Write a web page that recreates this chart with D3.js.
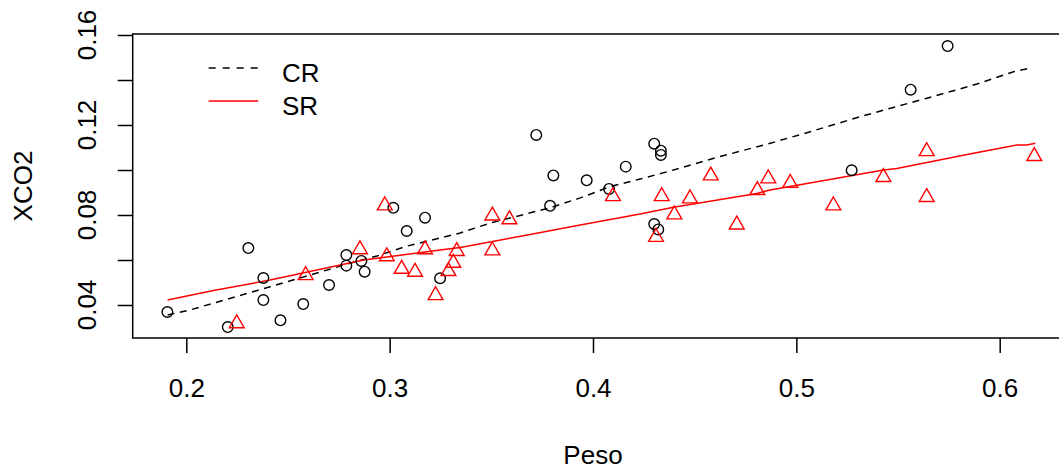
<!DOCTYPE html>
<html>
<head>
<meta charset="utf-8">
<script src="https://cdn.jsdelivr.net/npm/d3@7"></script>
<style>
  body { margin: 0; background: #fff; }
  text { font-family: "Liberation Sans", Arial, Helvetica, sans-serif; font-size: 26px; fill: #000; }
</style>
</head>
<body>
<div id="chart"></div>
<script>
// CR points (black circles)
const crPeso = [0.1907, 0.2204, 0.2305, 0.2379, 0.2379, 0.2463, 0.2575, 0.2702, 0.2787, 0.2787,
    0.2861, 0.2877, 0.3018, 0.3084, 0.3174, 0.3248, 0.3721, 0.3805, 0.3969, 0.4161,
    0.4301, 0.4334, 0.4334, 0.4079, 0.3789, 0.4301, 0.4321, 0.5272, 0.5562, 0.5744];
const crXco2 = [0.0369, 0.0302, 0.0653, 0.0520, 0.0422, 0.0332, 0.0404, 0.0489, 0.0622, 0.0575,
    0.0596, 0.0548, 0.0832, 0.0729, 0.0788, 0.0519, 0.1156, 0.0976, 0.0954, 0.1015,
    0.1117, 0.1086, 0.1067, 0.0916, 0.0841, 0.0760, 0.0736, 0.0999, 0.1357, 0.1551];

// SR points (red triangles)
const srPeso = [0.2248, 0.2976, 0.2854, 0.2587, 0.2986, 0.3059, 0.3125, 0.3174, 0.3226, 0.3289,
    0.3313, 0.3330, 0.3505, 0.3589, 0.3505, 0.4098, 0.4338, 0.4477, 0.4579, 0.4400,
    0.4310, 0.4707, 0.4808, 0.4862, 0.4970, 0.5182, 0.5428, 0.5641, 0.5641, 0.6170];
const srXco2 = [0.0318, 0.0842, 0.0647, 0.0532, 0.0616, 0.0560, 0.0547, 0.0647, 0.0443, 0.0550,
    0.0587, 0.0639, 0.0797, 0.0780, 0.0642, 0.0883, 0.0883, 0.0873, 0.0975, 0.0802,
    0.0702, 0.0757, 0.0910, 0.0962, 0.0942, 0.0842, 0.0968, 0.1083, 0.0879, 0.1061];

// smooth curves
const crLineX = [0.1908, 0.2018, 0.2412, 0.2574, 0.2791, 0.2938, 0.3086, 0.3347, 0.3494, 0.3789,
    0.3937, 0.4084, 0.4232, 0.4380, 0.4609, 0.4872, 0.5068, 0.5314, 0.5445, 0.5642,
    0.5888, 0.6068, 0.6147];
const crLineY = [0.0356, 0.0378, 0.0481, 0.0524, 0.0582, 0.0618, 0.0662, 0.0720, 0.0764, 0.0832,
    0.0876, 0.0926, 0.0960, 0.0996, 0.1056, 0.1119, 0.1170, 0.1237, 0.1270, 0.1319,
    0.1382, 0.1437, 0.1452];
const srLineX = [0.1908, 0.2133, 0.2412, 0.2872, 0.3248, 0.3347, 0.3658, 0.3937, 0.4232, 0.4396,
    0.4806, 0.4871, 0.5150, 0.5429, 0.5494, 0.5871, 0.6085, 0.6134, 0.6175];
const srLineY = [0.0422, 0.0464, 0.0511, 0.0600, 0.0644, 0.0656, 0.0708, 0.0756, 0.0804, 0.0834,
    0.0896, 0.0911, 0.0956, 0.1000, 0.1007, 0.1074, 0.1111, 0.1111, 0.1119];

const xTicks = [0.2, 0.3, 0.4, 0.5, 0.6];
const yTicks = [0.04, 0.06, 0.08, 0.10, 0.12, 0.14, 0.16];
const yLabels = [0.04, 0.08, 0.12, 0.16];
const legendNames = ['CR', 'SR'];

const width = 1059, height = 471;
const box = {left: 132.7, right: 1075, top: 34, bottom: 338};

const svg = d3.select('#chart').append('svg')
    .attr('width', width)
    .attr('height', height)
    .style('display', 'block');

svg.append('rect').attr('width', width).attr('height', height).attr('fill', '#fff');

const x = d3.scaleLinear().domain([0.2, 0.6]).range([186.3, 999.7]);
const y = d3.scaleLinear().domain([0.04, 0.16]).range([305, 35]);

// axes
const xAxis = svg.append('g')
    .attr('transform', 'translate(0,' + box.bottom + ')')
    .call(d3.axisBottom(x).tickValues(xTicks).tickSize(15).tickPadding(26)
        .tickFormat(d3.format('.1f')));
xAxis.select('.domain').remove();
xAxis.selectAll('line').attr('stroke', '#000').attr('stroke-width', 1.5);
xAxis.selectAll('text').attr('font-size', null).attr('font-family', null);

const yAxis = svg.append('g')
    .attr('transform', 'translate(' + box.left + ',0)')
    .call(d3.axisLeft(y).tickValues(yTicks).tickSize(15).tickFormat(''));
yAxis.select('.domain').remove();
yAxis.selectAll('line').attr('stroke', '#000').attr('stroke-width', 1.5);

svg.append('g').selectAll('text')
    .data(yLabels)
    .enter().append('text')
    .attr('transform', d => 'translate(87,' + y(d) + ') rotate(-90)')
    .attr('text-anchor', 'middle')
    .attr('dy', '0.35em')
    .text(d => d3.format('.2f')(d));

// axis titles
svg.append('text')
    .attr('x', x(0.4))
    .attr('y', 464)
    .attr('text-anchor', 'middle')
    .text('Peso');

svg.append('text')
    .attr('transform', 'translate(22.5,' + ((box.top + box.bottom) / 2) + ') rotate(-90)')
    .attr('text-anchor', 'middle')
    .attr('dy', '0.35em')
    .text('XCO2');

// plot box
svg.append('rect')
    .attr('x', box.left).attr('y', box.top)
    .attr('width', box.right - box.left).attr('height', box.bottom - box.top)
    .attr('fill', 'none').attr('stroke', '#000').attr('stroke-width', 1.5);

const line = d3.line().x(d => x(d[0])).y(d => y(d[1]));

svg.append('path')
    .datum(crLineX.map((v, i) => [v, crLineY[i]]))
    .attr('d', line)
    .attr('fill', 'none').attr('stroke', '#000')
    .attr('stroke-width', 1.5).attr('stroke-dasharray', '7,5.5');

svg.append('path')
    .datum(srLineX.map((v, i) => [v, srLineY[i]]))
    .attr('d', line)
    .attr('fill', 'none').attr('stroke', '#ff0000')
    .attr('stroke-width', 1.5);

// points
svg.append('g').selectAll('circle')
    .data(crPeso.map((v, i) => [v, crXco2[i]]))
    .enter().append('circle')
    .attr('cx', d => x(d[0]))
    .attr('cy', d => y(d[1]))
    .attr('r', 5.3)
    .attr('fill', 'none').attr('stroke', '#000').attr('stroke-width', 1.4);

const s = 5.5; // R pch=2 geometry
const tri = 'M0,' + (-1.5551 * s) + 'L' + (1.3468 * s) + ',' + (0.7776 * s) +
    'L' + (-1.3468 * s) + ',' + (0.7776 * s) + 'Z';
svg.append('g').selectAll('path')
    .data(srPeso.map((v, i) => [v, srXco2[i]]))
    .enter().append('path')
    .attr('transform', d => 'translate(' + x(d[0]) + ',' + y(d[1]) + ')')
    .attr('d', tri)
    .attr('fill', 'none').attr('stroke', '#ff0000').attr('stroke-width', 1.4);

// legend
const legend = svg.append('g');
const legendY = [68, 101];
legend.append('line')
    .attr('x1', 208.7).attr('x2', 258.3).attr('y1', legendY[0]).attr('y2', legendY[0])
    .attr('stroke', '#000').attr('stroke-width', 1.5).attr('stroke-dasharray', '7,7');
legend.append('line')
    .attr('x1', 208.7).attr('x2', 258.3).attr('y1', legendY[1]).attr('y2', legendY[1])
    .attr('stroke', '#ff0000').attr('stroke-width', 1.5);
legend.selectAll('text')
    .data(legendNames)
    .enter().append('text')
    .attr('x', 282)
    .attr('y', (d, i) => [82.3, 115][i])
    .text(d => d);
</script>
</body>
</html>
